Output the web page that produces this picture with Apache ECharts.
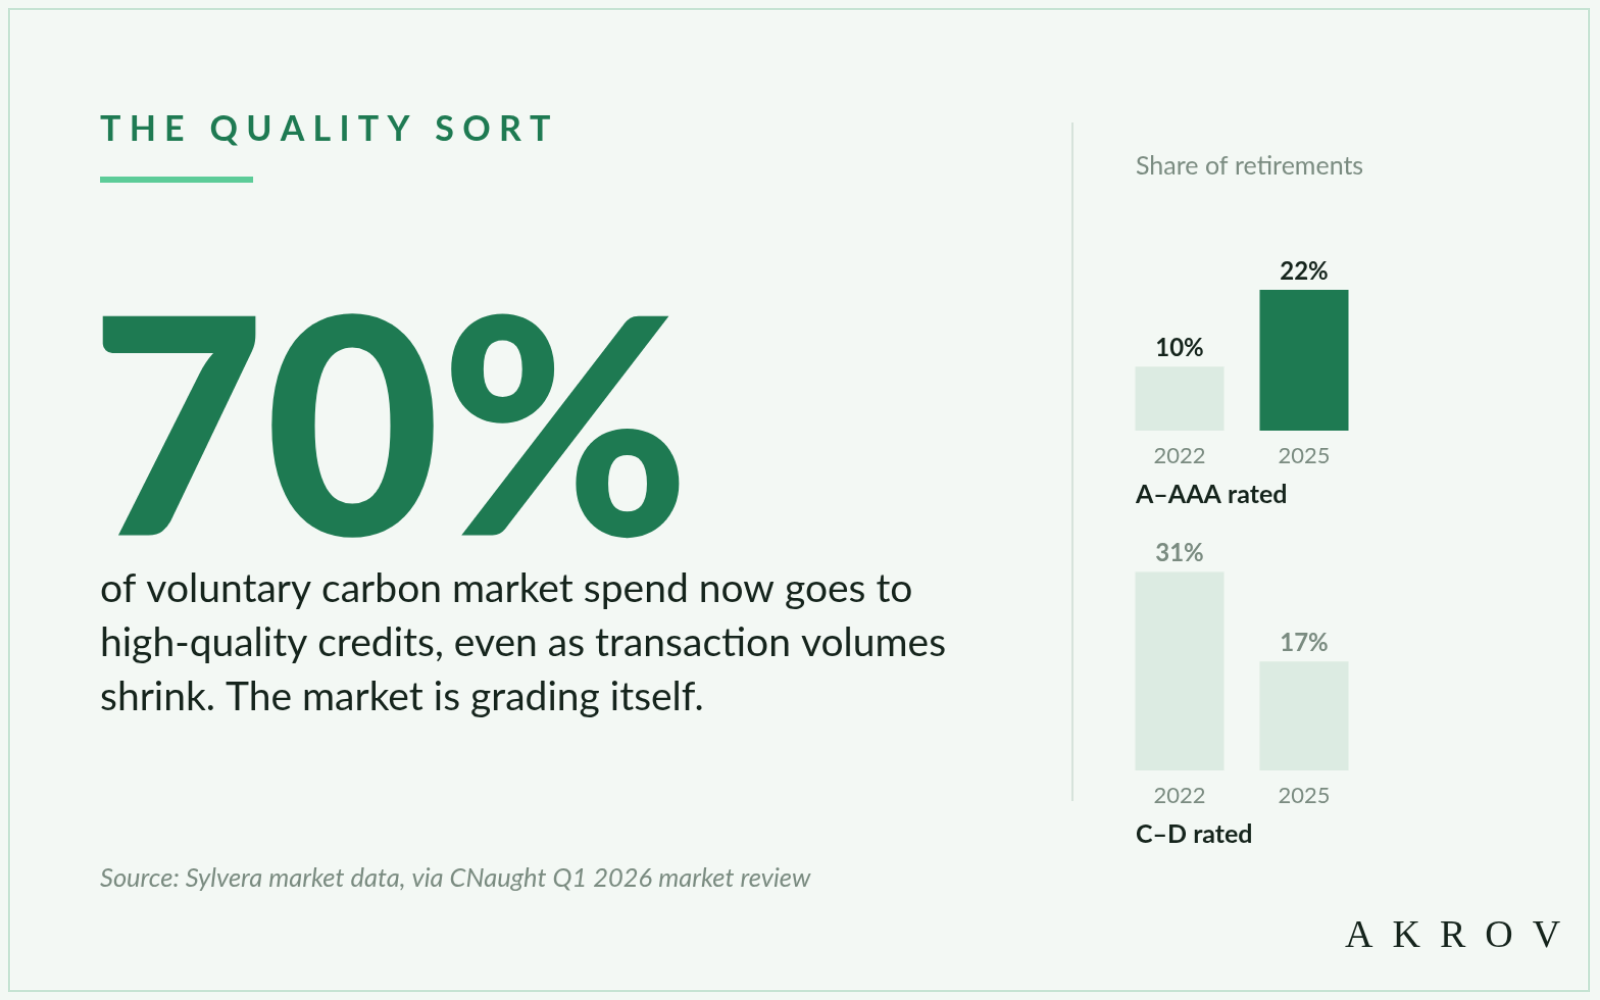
<!DOCTYPE html>
<html><head><meta charset="utf-8">
<script src="https://cdn.jsdelivr.net/npm/echarts@6/dist/echarts.min.js"></script>
<style>
html,body{margin:0;padding:0;background:#f3f8f4;overflow:hidden}
#f{position:absolute;left:8px;top:8px;width:1582px;height:984px;border:2px solid #c6e3d3;box-sizing:border-box}
#c{position:absolute;left:0;top:0;width:1568px;height:980px;transform:scale(1.0204);transform-origin:0 0}
</style></head><body><div id="f"></div><div id="c"></div>
<script>
const years = ['2022','2025'];
const highRated = [10, 22];
const lowRated = [31, 17];
const highLabel = 'A–AAA rated';
const lowLabel = 'C–D rated';
const headline = '70%';
const bodyLines = ['of voluntary carbon market spend now goes to','high-quality credits, even as transaction volumes','shrink. The market is grading itself.'];

const DARK='#1e7a52', LIGHT='#dcebe2', GREY='#7a8b80', INK='#15241c';
const chart = echarts.init(document.getElementById('c'));
const F='Lato';
function grid(top){return {left:1095,width:244,top:top,height:251};}
function xa(i){return {type:'category',gridIndex:i,data:years,axisLine:{show:false},axisTick:{show:false},
  axisLabel:{color:GREY,fontFamily:F,fontSize:22,margin:14}};}
function ya(i){return {type:'value',gridIndex:i,min:0,max:40,show:false};}
chart.setOption({
  grid:[grid(171),grid(504)],
  xAxis:[xa(0),xa(1)], yAxis:[ya(0),ya(1)],
  series:[
    {type:'bar',xAxisIndex:0,yAxisIndex:0,barWidth:87,
     data:highRated.map((v,i)=>({value:v,itemStyle:{color:i===1?DARK:LIGHT}})),
     label:{show:true,position:'top',distance:6,formatter:'{c}%',color:INK,fontFamily:F,fontWeight:'bold',fontSize:24}},
    {type:'bar',xAxisIndex:1,yAxisIndex:1,barWidth:87,
     data:lowRated.map(v=>({value:v,itemStyle:{color:LIGHT}})),
     label:{show:true,position:'top',distance:6,formatter:'{c}%',color:GREY,fontFamily:F,fontWeight:'bold',fontSize:24}}
  ],
  graphic:[
    {type:'text',x:98,y:127,style:{text:'T H E   Q U A L I T Y   S O R T',fill:DARK,font:'bold 34px Lato',textVerticalAlign:'middle'}},
    {type:'rect',shape:{x:98,y:173,width:150,height:6},style:{fill:'#5ccc98'}},
    {type:'text',x:88,y:429,style:{text:headline,fill:DARK,font:'900 296px Lato',textVerticalAlign:'middle'}},
    ...bodyLines.map((t,i)=>({type:'text',x:98,y:577+i*53,style:{text:t,fill:INK,font:'39px Lato',textVerticalAlign:'middle'}})),
    {type:'text',x:98,y:861,style:{text:'Source: Sylvera market data, via CNaught Q1 2026 market review',fill:GREY,font:'italic 25.5px Lato',textVerticalAlign:'middle'}},
    {type:'text',x:1318,y:918,style:{text:'A  K  R  O  V',fill:INK,font:'38px "Liberation Serif"',textVerticalAlign:'middle'}},
    {type:'rect',shape:{x:1050,y:120,width:2,height:665},style:{fill:'#d6e3db'}},
    {type:'text',x:1113,y:163,style:{text:'Share of retirements',fill:GREY,font:'25px Lato',textVerticalAlign:'middle'}},
    {type:'text',x:1113,y:485,style:{text:highLabel,fill:INK,font:'bold 25px Lato',textVerticalAlign:'middle'}},
    {type:'text',x:1113,y:818,style:{text:lowLabel,fill:INK,font:'bold 25px Lato',textVerticalAlign:'middle'}}
  ]
});
</script></body></html>
